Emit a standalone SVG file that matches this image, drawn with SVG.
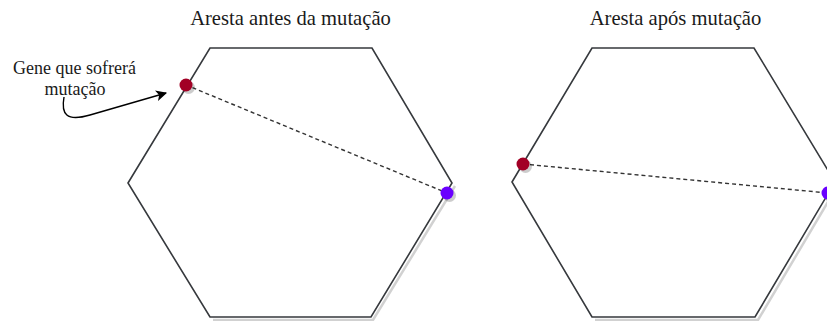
<svg xmlns="http://www.w3.org/2000/svg" width="827" height="321" viewBox="0 0 827 321">
  <style>
    .hex { fill: #ffffff; stroke: #36393d; stroke-width: 1.6; }
    .shadow { fill: none; stroke: #000000; stroke-opacity: 0.18; stroke-width: 2.5; }
    .dash { stroke: #333333; stroke-width: 1.4; stroke-dasharray: 4 3; fill: none; }
    .title { font-size: 20.6px; fill: #1a1a1a; text-anchor: middle; }
    .label { font-size: 18px; fill: #1a1a1a; text-anchor: middle; }
    .dshadow { fill: #000000; fill-opacity: 0.2; }
    .red { fill: #a20025; }
    .blue { fill: #6a00ff; }
  </style>
  <defs>
    <marker id="arrow" viewBox="0 0 10 10" refX="9" refY="5" markerWidth="11" markerHeight="11" markerUnits="userSpaceOnUse" orient="auto">
      <path d="M0,0 L10,5 L0,10 L2.5,5 Z" fill="#000000"/>
    </marker>
  </defs>

  <g id="title-left">
    <text class="title" font-family="'Liberation Serif', 'DejaVu Serif', 'Times New Roman', serif" x="290.5" y="25">Aresta antes da mutação</text>
  </g>
  <g id="title-right">
    <text class="title" font-family="'Liberation Serif', 'DejaVu Serif', 'Times New Roman', serif" x="675.5" y="25">Aresta após mutação</text>
  </g>

  <g id="hexagon-left">
    <polyline class="shadow" points="213,320 373,320 455,186"/>
    <polygon class="hex" points="128,183 210,48 372,48 452,183 371,317 210,317"/>
  </g>
  <g id="hexagon-right">
    <polyline class="shadow" points="595,320 758,320 838,185"/>
    <polygon class="hex" points="512,182 592,48 754,48 835,182 755,317 592,317"/>
  </g>

  <g id="label-gene">
    <text class="label" font-family="'Liberation Serif', 'DejaVu Serif', 'Times New Roman', serif" x="74.5" y="74">Gene que sofrerá</text>
    <text class="label" font-family="'Liberation Serif', 'DejaVu Serif', 'Times New Roman', serif" x="75" y="95">mutação</text>
  </g>

  <g id="connectors">
    <line class="dash" x1="186" y1="85" x2="447" y2="193"/>
    <line class="dash" x1="523" y1="164" x2="828" y2="193"/>
    <path d="M 64 97 C 61 114 66 122 90 115 L 166 93" fill="none" stroke="#000000" stroke-width="1.4" marker-end="url(#arrow)"/>
  </g>

  <g id="dot-red-left">
    <circle class="dshadow" cx="188.5" cy="87.5" r="6.5"/>
    <circle class="red" cx="186" cy="85" r="6.5"/>
  </g>
  <g id="dot-blue-left">
    <circle class="dshadow" cx="449.5" cy="195.5" r="6.5"/>
    <circle class="blue" cx="447" cy="193" r="6.5"/>
  </g>
  <g id="dot-red-right">
    <circle class="dshadow" cx="525.5" cy="166.5" r="6.5"/>
    <circle class="red" cx="523" cy="164" r="6.5"/>
  </g>
  <g id="dot-blue-right">
    <circle class="dshadow" cx="830.5" cy="195.5" r="6.5"/>
    <circle class="blue" cx="828" cy="193" r="6.5"/>
  </g>
</svg>
